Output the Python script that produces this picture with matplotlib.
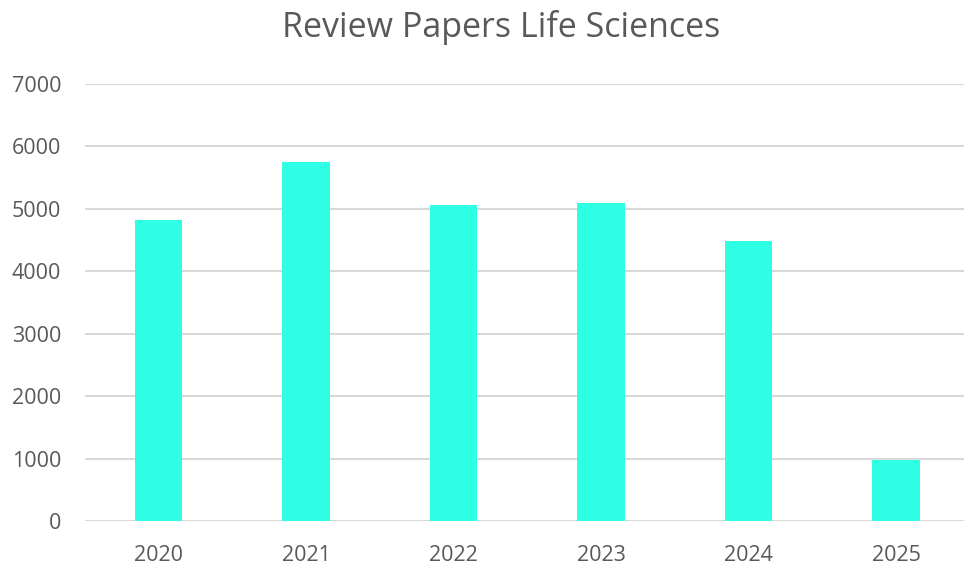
import matplotlib
matplotlib.use('Agg')
from matplotlib import pyplot as plt

years = ['2020', '2021', '2022', '2023', '2024', '2025']
papers = [4820, 5750, 5060, 5090, 4490, 980]
yticks = [0, 1000, 2000, 3000, 4000, 5000, 6000, 7000]

bar_color = '#2FFFE4'
text_color = '#595959'
grid_color = '#D9D9D9'

plt.rcParams['font.family'] = ['Open Sans', 'DejaVu Sans']

fig = plt.figure(figsize=(9.64, 5.67), dpi=100)
ax = fig.add_axes([0.088, 0.081, 0.918, 0.771])

ax.bar(years, papers, width=0.32, color=bar_color, zorder=3)

ax.set_ylim(0, 7000)
ax.set_xlim(-0.5, len(years) - 0.5)
ax.set_yticks(yticks)
ax.yaxis.grid(True, color=grid_color, linewidth=1.5, zorder=0)
for spine in ax.spines.values():
    spine.set_visible(False)
ax.tick_params(length=0, labelsize=15.5, colors=text_color)
ax.tick_params(axis='x', pad=17)
ax.tick_params(axis='y', pad=17)

# title sits centred over the plotting area rather than the whole figure
fig.text(0.52, 0.952, 'Review Papers Life Sciences', ha='center', va='center',
         fontsize=24.5, color=text_color)

fig.savefig('out.png', dpi=100)
